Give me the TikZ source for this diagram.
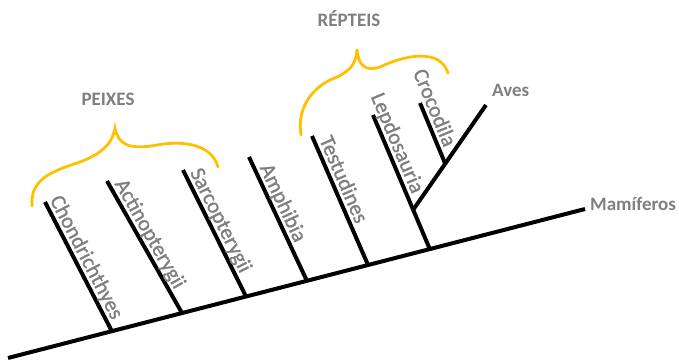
\documentclass[tikz,border=0pt]{standalone}
\usepackage{fontspec}
\setmainfont{Carlito}
\newfontfamily\lblfont{Carlito}[FakeBold=1.2]
\usetikzlibrary{calc}
\definecolor{txtgray}{RGB}{127,127,127}
\definecolor{gold}{RGB}{255,192,0}
\begin{document}
\begin{tikzpicture}[x=1pt,y=-1pt,
  branch/.style={line width=4pt, black},
  bracestyle/.style={line width=2.8pt, gold, line cap=round},
  lbl/.style={font=\lblfont\fontsize{21.5}{21.5}\selectfont, text=txtgray, inner sep=0pt, anchor=base west, sloped},
  head/.style={font=\fontsize{19}{19}\selectfont\bfseries, text=txtgray, inner sep=0pt}]
\useasboundingbox (0,0) rectangle (679,363);
% main axis
\coordinate (root) at (8,358);
\coordinate (mam) at (585,209);
\draw[branch] (root) -- (mam);
% branch points on the axis
\coordinate (b1) at ($(root)!0.180!(mam)$);
\coordinate (b2) at ($(root)!0.3016!(mam)$);
\coordinate (b3) at ($(root)!0.4125!(mam)$);
\coordinate (b4) at ($(root)!0.518!(mam)$);
\coordinate (b5) at ($(root)!0.624!(mam)$);
\coordinate (b6) at ($(root)!0.731!(mam)$);
% tops
\coordinate (t1) at (45,202);
\coordinate (t2) at (107,181);
\coordinate (t3) at (183,170);
\coordinate (t4) at (249,157);
\coordinate (t5) at (312,136);
\coordinate (t6) at (373,115);
\draw[branch] (b1) -- (t1);
\draw[branch] (b2) -- (t2);
\draw[branch] (b3) -- (t3);
\draw[branch] (b4) -- (t4);
\draw[branch] (b5) -- (t5);
\draw[branch] (b6) -- (t6);
% Aves and Crocodila
\coordinate (ba) at ($(t6)!0.707!(b6)$);
\coordinate (ta) at (486,105);
\draw[branch] (ba) -- (ta);
\coordinate (b7) at ($(ba)!0.44!(ta)$);
\coordinate (t7) at (420,103);
\draw[branch] (b7) -- (t7);
% labels
\path ($($(t1)!0pt!(b1)$)!5pt!90:(b1)$) coordinate (s1);
\path (s1) -- +($(b1)-(t1)$) node[lbl,pos=0]{Chondrichthyes};
\path ($($(t2)!6pt!(b2)$)!5pt!90:(b2)$) coordinate (s2);
\path (s2) -- +($(b2)-(t2)$) node[lbl,pos=0]{Actinopterygii};
\path ($($(t3)!5pt!(b3)$)!5pt!90:(b3)$) coordinate (s3);
\path (s3) -- +($(b3)-(t3)$) node[lbl,pos=0]{Sarcopterygii};
\path ($($(t4)!14pt!(b4)$)!5pt!90:(b4)$) coordinate (s4);
\path (s4) -- +($(b4)-(t4)$) node[lbl,pos=0]{Amphibia};
\path ($($(t5)!6pt!(b5)$)!5pt!90:(b5)$) coordinate (s5);
\path (s5) -- +($(b5)-(t5)$) node[lbl,pos=0]{Testudines};
\path ($($(t6)!-18pt!(b6)$)!5pt!90:(b6)$) coordinate (s6);
\path (s6) -- +($(b6)-(t6)$) node[lbl,pos=0]{Lepdosauria};
\path ($($(t7)!-31pt!(b7)$)!5pt!90:(b7)$) coordinate (s7);
\path (s7) -- +($(b7)-(t7)$) node[lbl,pos=0]{Crocodila};
\node[head, anchor=base west] (aves) at (492,97) {Aves};
\node[head, anchor=base west] (mamif) at (590,211) {Mamíferos};
% braces
\draw[bracestyle] (32,206) .. controls (30,180) and (50,172) .. (77,163)
  .. controls (100,155) and (112,145) .. (115,128)
  .. controls (118,145) and (130,150) .. (157,145)
  .. controls (185,140) and (212,145) .. (218,167);
\draw[bracestyle] (301,135) .. controls (297,110) and (310,90) .. (330,80)
  .. controls (350,72) and (356,65) .. (357,49)
  .. controls (358,65) and (365,72) .. (380,67)
  .. controls (405,55) and (440,48) .. (448,73);
\node[head, anchor=base] (peixes) at (108,106) {PEIXES};
\node[head, anchor=base] (repteis) at (349,27) {RÉPTEIS};
\end{tikzpicture}
\end{document}
